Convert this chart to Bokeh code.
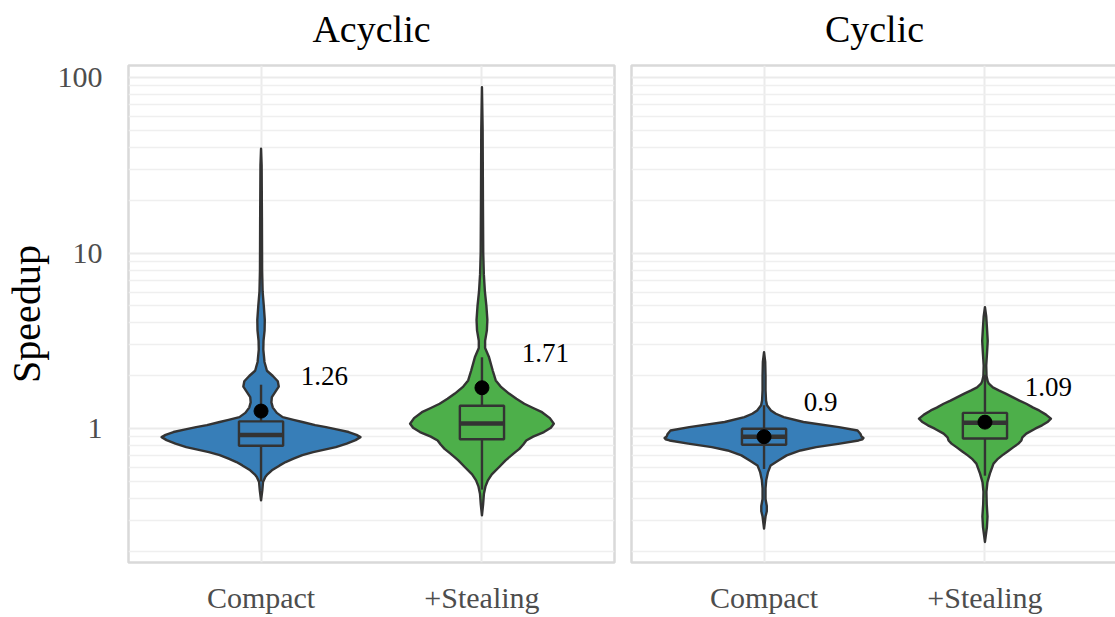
import numpy as np
from bokeh.plotting import figure
from bokeh.layouts import row
from bokeh.models import FixedTicker, Range1d, LinearAxis
from bokeh.core.properties import value
from bokeh.embed import file_html
from bokeh.resources import INLINE

# ---------------- data ----------------
panels = ["Acyclic", "Cyclic"]
variants = ["Compact", "+Stealing"]
colors = ["#377EB8", "#4DAF4A"]

mean_acyclic = [1.26, 1.71]
mean_cyclic = [0.90, 1.09]
mean_labels_acyclic = ["1.26", "1.71"]
mean_labels_cyclic = ["0.9", "1.09"]

q1_acyclic = [0.80, 0.87]
median_acyclic = [0.92, 1.07]
q3_acyclic = [1.10, 1.35]
whislo_acyclic = [0.50, 0.45]
whishi_acyclic = [1.78, 2.55]

q1_cyclic = [0.81, 0.88]
median_cyclic = [0.90, 1.08]
q3_cyclic = [1.00, 1.23]
whislo_cyclic = [0.59, 0.54]
whishi_cyclic = [1.36, 2.03]

# violin outlines: log10(speedup) and relative half-width (widest = 101)
ac_compact_log = [1.594, 1.5, 1.2, 0.9, 0.78, 0.70, 0.62, 0.56, 0.50, 0.45, 0.38, 0.33, 0.30, 0.27, 0.24,
                  0.21, 0.18, 0.15, 0.12, 0.09, 0.066, 0.05, 0.038, 0.02, 0.009, -0.005, -0.019, -0.035,
                  -0.048, -0.065, -0.085, -0.105, -0.133, -0.15, -0.171, -0.19, -0.209, -0.237, -0.26,
                  -0.275, -0.304, -0.35, -0.408]
ac_compact_w = [0, 0.6, 0.9, 1.1, 1.6, 2.8, 3.8, 3.6, 2.5, 2.3, 3.5, 6, 12, 17, 18, 14.5, 11, 10.5, 12, 16,
                22, 33, 42, 55, 66, 78, 89, 97, 101, 96, 87, 76, 53, 42, 33, 25, 19, 11, 6.5, 4.3, 2, 1.3, 0]

ac_steal_log = [1.944, 1.7, 1.3, 1.0, 0.88, 0.78, 0.70, 0.62, 0.56, 0.50, 0.46, 0.41, 0.33, 0.275, 0.24,
                0.2, 0.17, 0.142, 0.118, 0.094, 0.06, 0.028, 0.005, -0.019, -0.045, -0.067, -0.09, -0.115,
                -0.142, -0.18, -0.218, -0.26, -0.294, -0.33, -0.37, -0.43, -0.493]
ac_steal_w = [0, 0.7, 1.0, 1.3, 1.9, 3, 4.5, 5.5, 5, 3.2, 3.2, 7, 11, 14, 19, 27.5, 35, 43, 52, 61, 69, 73,
              70, 63, 52, 45, 42, 38, 32, 24, 17.5, 10, 6, 3.5, 2, 1.2, 0]

cy_compact_log = [0.436, 0.38, 0.30, 0.22, 0.16, 0.133, 0.104, 0.085, 0.066, 0.038, 0.009, -0.01, -0.03,
                  -0.045, -0.053, -0.06, -0.067, -0.085, -0.105, -0.124, -0.152, -0.18, -0.209, -0.247,
                  -0.294, -0.34, -0.4, -0.44, -0.47, -0.5, -0.569]
cy_compact_w = [0, 1.2, 1.5, 1.5, 2.0, 3, 7, 12, 20, 40, 76, 95, 98, 99, 101, 100, 96, 77, 53, 37, 23, 15,
                6.7, 4, 2.2, 1.5, 1.5, 2.8, 2.8, 1.5, 0]

cy_steal_log = [0.692, 0.64, 0.56, 0.50, 0.44, 0.36, 0.30, 0.27, 0.256, 0.235, 0.218, 0.2, 0.18, 0.16,
                0.142, 0.12, 0.104, 0.08, 0.057, 0.04, 0.019, 0.0, -0.028, -0.05, -0.067, -0.085, -0.105,
                -0.13, -0.152, -0.175, -0.199, -0.256, -0.304, -0.36, -0.43, -0.5, -0.56, -0.645]
cy_steal_w = [0, 1.3, 2.2, 2.8, 2.2, 1.3, 1.6, 2.8, 4, 8, 14, 21, 28, 35, 42, 49, 55, 62, 67, 64, 58, 51,
              42, 38, 37, 34, 29, 23, 17.5, 12.5, 8.7, 5, 2.5, 1.5, 1.8, 2.6, 2, 0]

y_major_ticks = [1, 10, 100]
y_minor_ticks = [0.2, 0.3, 0.4, 0.5, 0.6, 0.7, 0.8, 0.9, 2, 3, 4, 5, 6, 7, 8, 9,
                 20, 30, 40, 50, 60, 70, 80, 90]

# ---------------- drawing ----------------
FONT = "Liberation Serif"
INK = "#333333"
xs = [0.5, 1.5]
HALF_MAX = 0.45
BOX_HALF = 0.1
LW = 2.4


def make_panel(title, left_panel, means, labels, q1, med, q3, wlo, whi, profiles):
    kw = dict(frame_width=486, frame_height=497, min_border_top=65, min_border_bottom=55,
              y_axis_type="log", x_range=Range1d(-0.1, 2.1), y_range=Range1d(0.173, 117),
              output_backend="svg", toolbar_location=None,
              background_fill_color="white", border_fill_color="white")
    if left_panel:
        kw.update(min_border_left=126, min_border_right=8)
    else:
        kw.update(min_border_left=9, min_border_right=0, y_axis_location=None)
    p = figure(**kw)
    p.outline_line_color = "#d9d9d9"
    p.outline_line_width = 2.5

    # facet strip title as the label of an empty axis above the panel
    strip = LinearAxis(ticker=FixedTicker(ticks=[]), axis_label=title,
                       axis_line_color=None, major_tick_line_color=None, minor_tick_line_color=None,
                       major_tick_out=0, minor_tick_out=0, major_label_standoff=0,
                       axis_label_standoff=16, axis_label_text_font=FONT,
                       axis_label_text_font_size="38px", axis_label_text_font_style="normal",
                       axis_label_text_color="black")
    p.add_layout(strip, "above")

    yt = FixedTicker(ticks=y_major_ticks, minor_ticks=y_minor_ticks)
    p.ygrid.ticker = yt
    p.ygrid.grid_line_color = "#ebebeb"
    p.ygrid.grid_line_width = 2
    p.ygrid.minor_grid_line_color = "#efefef"
    p.ygrid.minor_grid_line_width = 1.3

    xt = FixedTicker(ticks=xs)
    xa = p.below[0]
    xa.ticker = xt
    p.xgrid.ticker = xt
    p.xgrid.grid_line_color = "#ebebeb"
    p.xgrid.grid_line_width = 2
    xa.major_label_overrides = {x: v for x, v in zip(xs, variants)}
    xa.axis_line_color = None
    xa.major_tick_line_color = None
    xa.minor_tick_line_color = None
    xa.major_label_text_font = FONT
    xa.major_label_text_font_size = "30px"
    xa.major_label_text_color = "#4d4d4d"
    xa.major_label_standoff = 12

    if left_panel:
        ya = p.left[0]
        ya.ticker = yt
        ya.major_label_overrides = {t: str(t) for t in y_major_ticks}
        ya.axis_line_color = None
        ya.major_tick_line_color = None
        ya.minor_tick_line_color = None
        ya.major_label_text_font = FONT
        ya.major_label_text_font_size = "30px"
        ya.major_label_text_color = "#4d4d4d"
        ya.major_label_standoff = 20
        ya.axis_label = "Speedup"
        ya.axis_label_text_font = FONT
        ya.axis_label_text_font_size = "40px"
        ya.axis_label_text_font_style = "normal"
        ya.axis_label_text_color = "black"
        ya.axis_label_standoff = 6

    for i, (logs, widths) in enumerate(profiles):
        xc = xs[i]
        y = 10 ** np.array(logs, dtype=float)
        hw = np.array(widths, dtype=float) * HALF_MAX / 101.0
        px = np.concatenate([xc + hw, (xc - hw)[::-1]])
        py = np.concatenate([y, y[::-1]])
        p.patch(px, py, fill_color=colors[i], line_color=INK, line_width=LW, line_join="round")

    lefts = [x - BOX_HALF for x in xs]
    rights = [x + BOX_HALF for x in xs]
    p.segment(x0=xs, y0=q3, x1=xs, y1=whi, line_color=INK, line_width=LW)
    p.segment(x0=xs, y0=q1, x1=xs, y1=wlo, line_color=INK, line_width=LW)
    p.quad(left=lefts, right=rights, bottom=q1, top=q3, fill_color=colors, line_color=INK, line_width=LW)
    p.segment(x0=lefts, y0=med, x1=rights, y1=med, line_color=INK, line_width=4.5)

    p.scatter(x=xs, y=means, size=14, color="black")
    p.text(x=[x + 0.18 for x in xs], y=[m * 10 ** 0.2 for m in means], text=labels,
           text_align="left", text_baseline="middle", text_color="black",
           text_font=value(FONT), text_font_size=value("27px"))
    return p


p1 = make_panel(panels[0], True, mean_acyclic, mean_labels_acyclic, q1_acyclic, median_acyclic,
                q3_acyclic, whislo_acyclic, whishi_acyclic,
                [(ac_compact_log, ac_compact_w), (ac_steal_log, ac_steal_w)])
p2 = make_panel(panels[1], False, mean_cyclic, mean_labels_cyclic, q1_cyclic, median_cyclic,
                q3_cyclic, whislo_cyclic, whishi_cyclic,
                [(cy_compact_log, cy_compact_w), (cy_steal_log, cy_steal_w)])

layout = row(p1, p2, spacing=0)
open("out.html", "w").write(file_html(layout, INLINE))
